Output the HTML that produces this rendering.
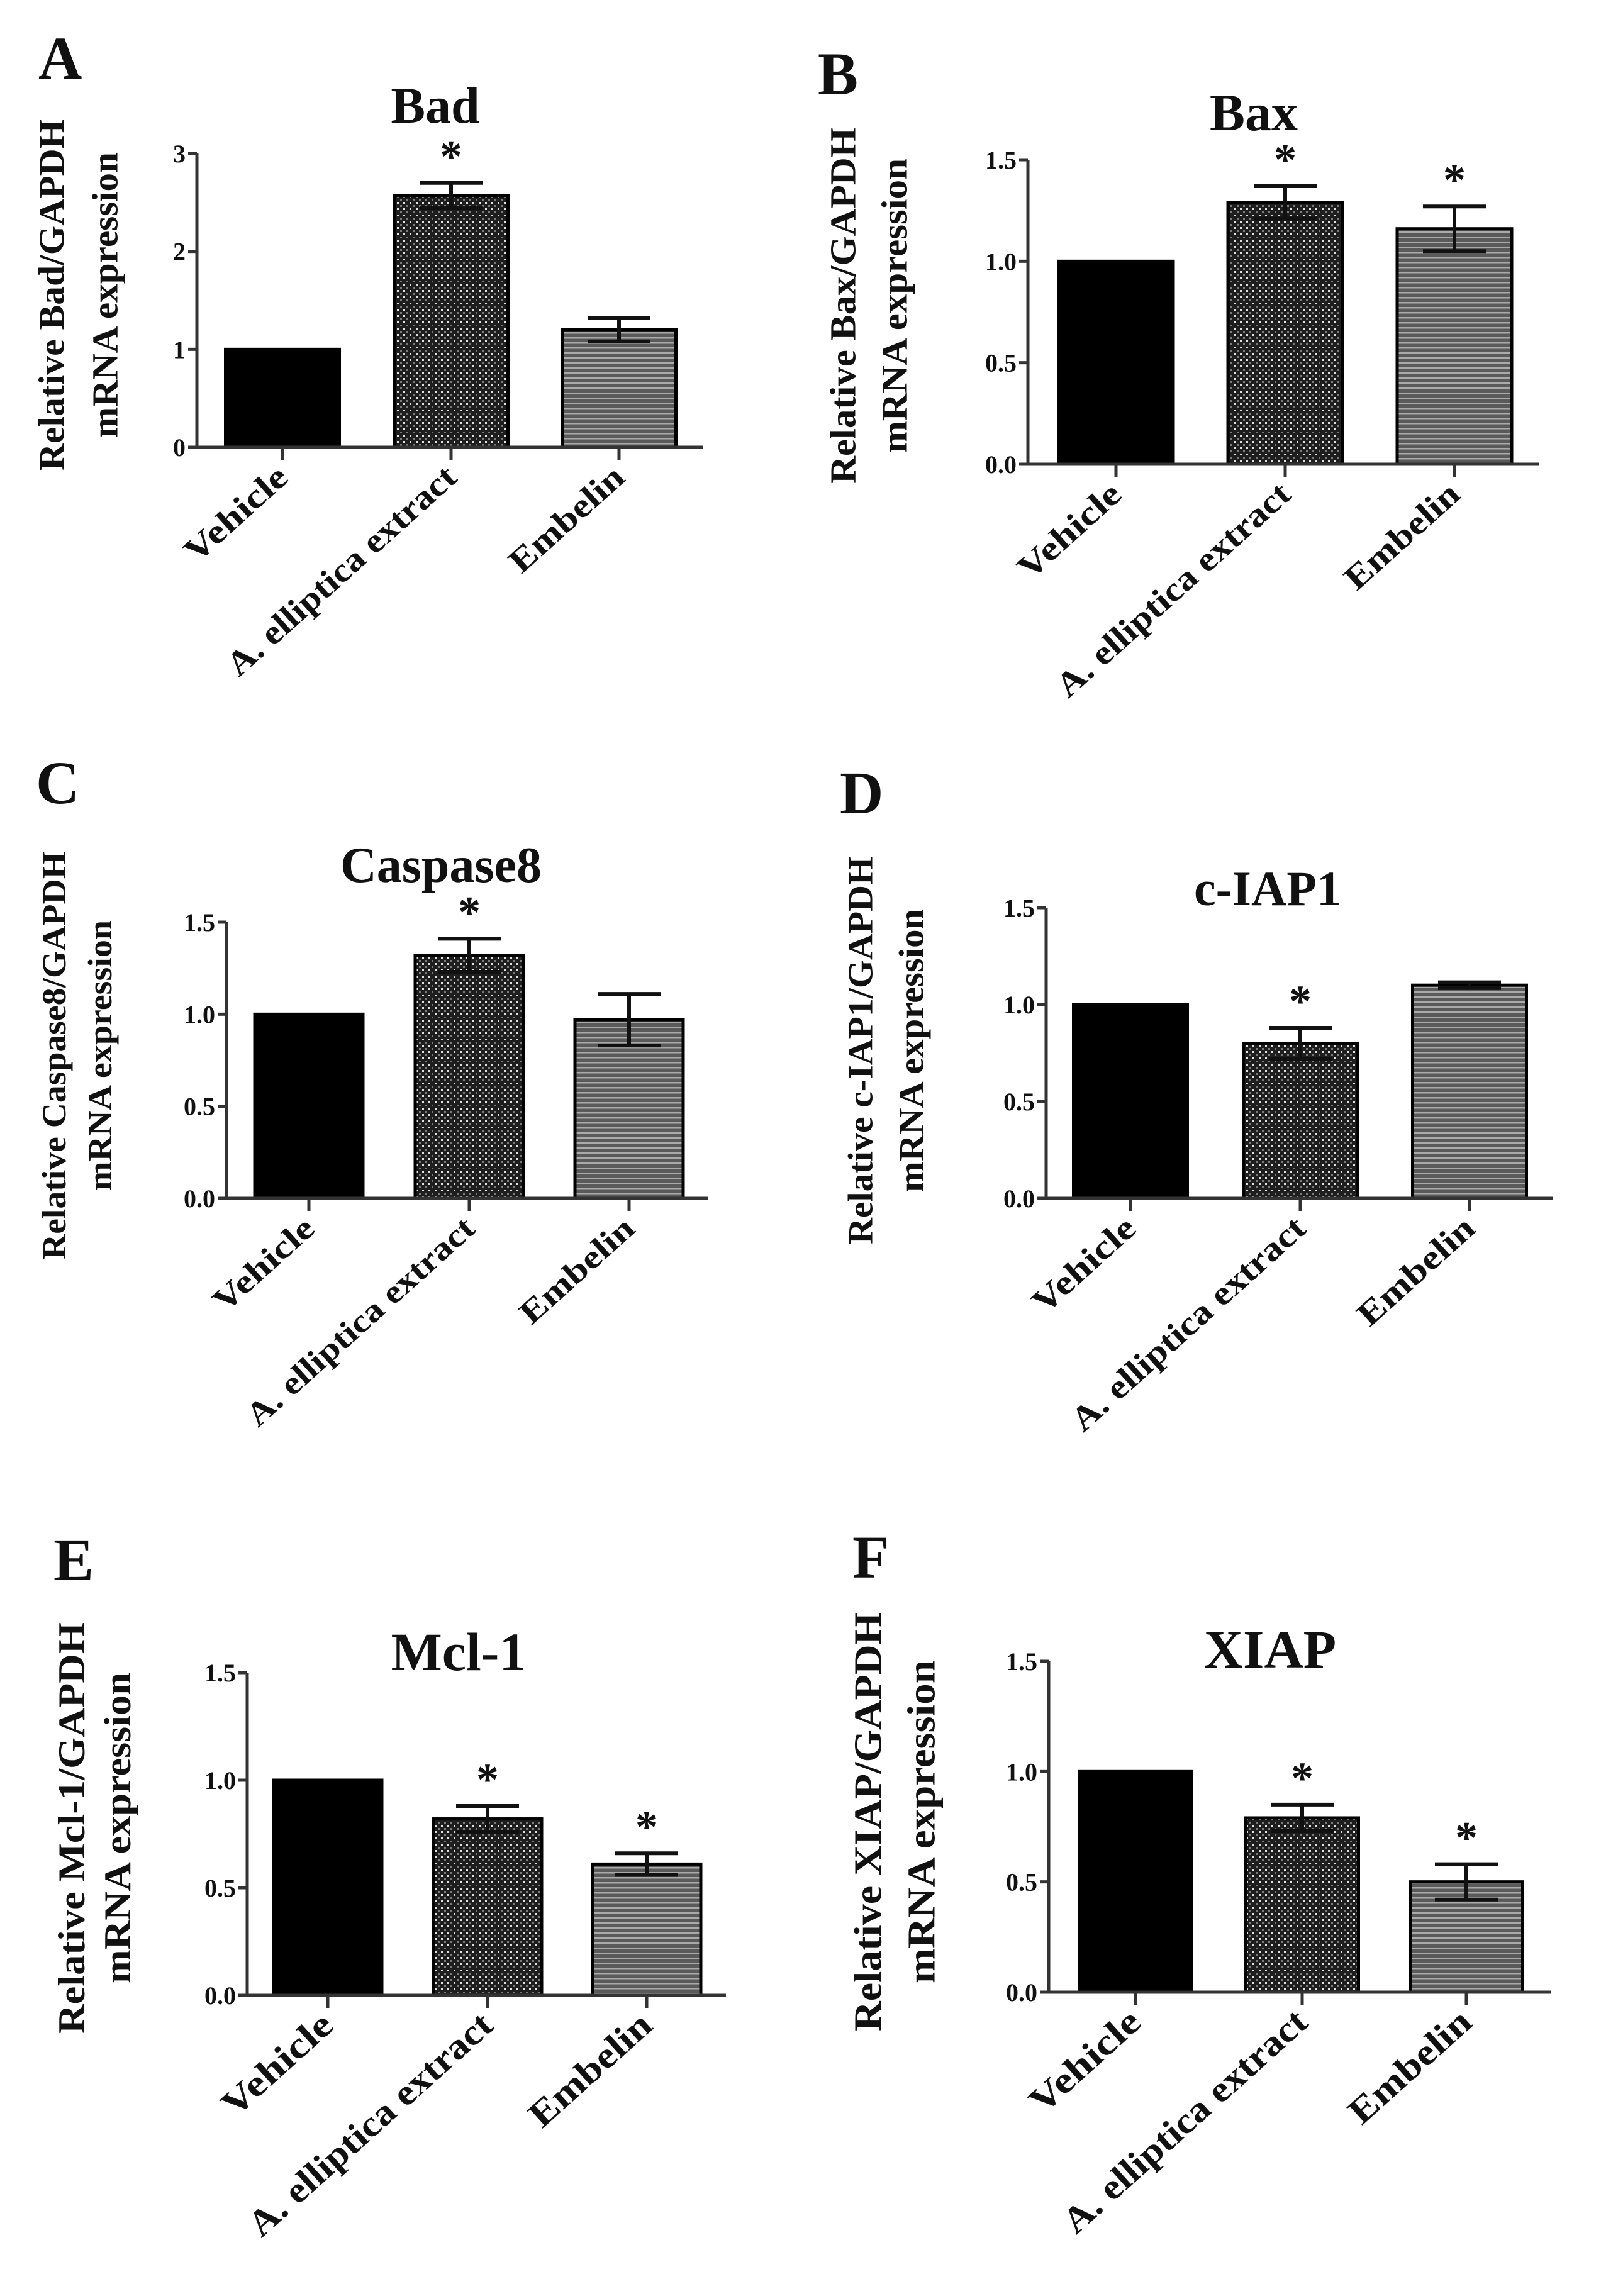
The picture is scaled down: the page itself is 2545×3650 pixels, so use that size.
<!DOCTYPE html>
<html><head><meta charset="utf-8"><style>
html,body{margin:0;padding:0;background:#fff;}
svg{display:block;}
text{font-family:"Liberation Serif",serif;font-weight:bold;fill:#111;}
</style></head><body>
<svg id="fig" width="2545" height="3650" viewBox="0 0 2545 3650" xmlns="http://www.w3.org/2000/svg">
<defs>
<pattern id="pat-check" width="10" height="10" patternUnits="userSpaceOnUse">
<rect width="10" height="10" fill="#1e1e1e"/><rect x="1" y="1" width="3" height="3" fill="#e0e0e0"/><rect x="6" y="6" width="3" height="3" fill="#7a7a7a"/>
</pattern>
<pattern id="pat-stripe" width="8" height="8" patternUnits="userSpaceOnUse">
<rect width="8" height="8" fill="#5a5a5a"/><rect y="0" width="8" height="2.5" fill="#aaaaaa"/>
</pattern>
</defs>
</svg>
<script>
const categories = ["Vehicle", "A. elliptica extract", "Embelin"];
const badValues = [1, 2.57, 1.2];
const badErrors = [0, 0.13, 0.12];
const baxValues = [1, 1.29, 1.16];
const baxErrors = [0, 0.08, 0.11];
const caspValues = [1, 1.32, 0.97];
const caspErrors = [0, 0.09, 0.14];
const ciapValues = [1, 0.80, 1.10];
const ciapErrors = [0, 0.08, 0.015];
const mclValues = [1, 0.82, 0.61];
const mclErrors = [0, 0.06, 0.05];
const xiapValues = [1, 0.79, 0.50];
const xiapErrors = [0, 0.06, 0.08];
const badSig = [false, true, false];
const baxSig = [false, true, true];
const caspSig = [false, true, false];
const ciapSig = [false, true, false];
const mclSig = [false, true, true];
const xiapSig = [false, true, true];
const ticksA = [0, 1, 2, 3];
const tickLabelsA = ["0", "1", "2", "3"];
const ticksB = [0, 0.5, 1.0, 1.5];
const tickLabelsB = ["0.0", "0.5", "1.0", "1.5"];

const NS = "http://www.w3.org/2000/svg";
const svg = document.getElementById("fig");
function mk(tag, attrs, parent) {
  const e = document.createElementNS(NS, tag);
  for (const k in attrs) e.setAttribute(k, attrs[k]);
  (parent || svg).appendChild(e);
  return e;
}
const fills = ["#000", "url(#pat-check)", "url(#pat-stripe)"];

const panels = [
  {key:"a", letter:"A", title:"Bad", gene:"Bad", values:badValues, errors:badErrors, sig:badSig, ticks:ticksA, tickLabels:tickLabelsA, max:3,
   axisX:313, y0:711, yTop:244, xEnd:1118, centers:[449,717,984], bw:181, lx:61, ly:125, tx:692, ty:195, tfs:82,
   yl1:81, yl2:166, ylc:469, ylen:558, ylen2:454, yfs:58, xl:[200,470,225], xfs:54},
  {key:"b", letter:"B", title:"Bax", gene:"Bax", values:baxValues, errors:baxErrors, sig:baxSig, ticks:ticksB, tickLabels:tickLabelsB, max:1.5,
   axisX:1634, y0:738, yTop:254, xEnd:2446, centers:[1774,2043,2312], bw:182, lx:1300, ly:150, tx:1993, ty:207, tfs:84,
   yl1:1339, yl2:1421, ylc:486, ylen:566, ylen2:468, yfs:58, xl:[200,480,225], xfs:54},
  {key:"c", letter:"C", title:"Caspase8", gene:"Caspase8", values:caspValues, errors:caspErrors, sig:caspSig, ticks:ticksB, tickLabels:tickLabelsB, max:1.5,
   axisX:360, y0:1905, yTop:1466, xEnd:1126, centers:[491,746,1000], bw:172, lx:57, ly:1277, tx:701, ty:1402, tfs:80,
   yl1:85, yl2:158, ylc:1678, ylen:648, ylen2:430, yfs:54, xl:[196,468,225], xfs:52},
  {key:"d", letter:"D", title:"c-IAP1", gene:"c-IAP1", values:ciapValues, errors:ciapErrors, sig:ciapSig, ticks:ticksB, tickLabels:tickLabelsB, max:1.5,
   axisX:1663, y0:1905, yTop:1443, xEnd:2469, centers:[1797,2067,2336], bw:181, lx:1335, ly:1293, tx:2015, ty:1439, tfs:78,
   yl1:1367, yl2:1448, ylc:1670, ylen:616, ylen2:450, yfs:56, xl:[200,480,230], xfs:54},
  {key:"e", letter:"E", title:"Mcl-1", gene:"Mcl-1", values:mclValues, errors:mclErrors, sig:mclSig, ticks:ticksB, tickLabels:tickLabelsB, max:1.5,
   axisX:393, y0:3172, yTop:2659, xEnd:1154, centers:[521,775,1028], bw:172, lx:85, ly:2512, tx:729, ty:2655, tfs:86,
   yl1:113, yl2:186, ylc:2906, ylen:654, ylen2:494, yfs:60, xl:[215,500,240], xfs:58},
  {key:"f", letter:"F", title:"XIAP", gene:"XIAP", values:xiapValues, errors:xiapErrors, sig:xiapSig, ticks:ticksB, tickLabels:tickLabelsB, max:1.5,
   axisX:1667, y0:3167, yTop:2641, xEnd:2465, centers:[1805,2070,2331], bw:179, lx:1355, ly:2508, tx:2019, ty:2651, tfs:86,
   yl1:1379, yl2:1464, ylc:2896, ylen:666, ylen2:514, yfs:62, xl:[215,500,240], xfs:58}
];

panels.forEach(p => {
  const g = mk("g", {});
  
  
  const yScale = v => p.y0 - (v / p.max) * (p.y0 - p.yTop);

  const letter = mk("text", {x:p.lx, y:p.ly, "font-size":96}, g);
  letter.textContent = p.letter;
  
  

  const title = mk("text", {x:p.tx, y:p.ty, "font-size":p.tfs, "text-anchor":"middle"}, g);
  title.textContent = p.title;
  
  

  const yl = mk("text", {transform:`translate(${p.yl1 + p.yfs*0.35},${p.ylc}) rotate(-90)`, "font-size":p.yfs, "text-anchor":"middle", textLength:p.ylen, lengthAdjust:"spacingAndGlyphs"}, g);
  yl.textContent = "Relative  " + p.gene + "/GAPDH";
  
  
  const yl2 = mk("text", {transform:`translate(${p.yl2 + p.yfs*0.35},${p.ylc}) rotate(-90)`, "font-size":p.yfs, "text-anchor":"middle", textLength:p.ylen2, lengthAdjust:"spacingAndGlyphs"}, g);
  yl2.textContent = "mRNA expression";
  
  

  p.values.forEach((v, i) => {
    const cx = p.centers[i];
    const top = yScale(v);
    const bar = mk("rect", {x:cx - p.bw/2, y:top, width:p.bw, height:p.y0 - top, fill:fills[i], stroke:"#000", "stroke-width":5}, g);
    
    
    const e = p.errors[i];
    if (e > 0) {
      const eTop = yScale(v + e), eBot = yScale(v - e);
      const eb = mk("path", {d:`M${cx},${eBot} V${eTop} M${cx-50},${eTop} H${cx+50} M${cx-50},${eBot} H${cx+50}`, stroke:"#111", "stroke-width":6, fill:"none"}, g);
      
      
    }
    if (p.sig[i]) {
      const st = mk("text", {x:cx, y:yScale(v + e) - 18, "font-size":72, "text-anchor":"middle", "font-weight":"normal"}, g);
      st.textContent = "*";
      
      
    }
    const tk = mk("line", {x1:cx, y1:p.y0, x2:cx, y2:p.y0 + 20, stroke:"#333", "stroke-width":5}, g);
    
    
    const lx = cx + 12, ly = p.y0 + 52;
    const xl = mk("text", {transform:`translate(${lx},${ly}) rotate(-42)`, "font-size":p.xfs, "text-anchor":"end", textLength:p.xl[i], lengthAdjust:"spacingAndGlyphs"}, g);
    xl.textContent = categories[i];
    
    
  });

  const ya = mk("line", {x1:p.axisX, y1:p.yTop, x2:p.axisX, y2:p.y0, stroke:"#333", "stroke-width":5}, g);
  
  
  const xa = mk("line", {x1:p.axisX - 12, y1:p.y0, x2:p.xEnd, y2:p.y0, stroke:"#333", "stroke-width":5}, g);
  
  
  p.ticks.forEach((t, j) => {
    const y = yScale(t);
    const tl = mk("line", {x1:p.axisX - 14, y1:y, x2:p.axisX, y2:y, stroke:"#333", "stroke-width":5}, g);
    
    
    const tt = mk("text", {x:p.axisX - 18, y:y + 14, "font-size":40, "text-anchor":"end"}, g);
    tt.textContent = p.tickLabels[j];
    
    
  });
});
</script>
</body></html>
